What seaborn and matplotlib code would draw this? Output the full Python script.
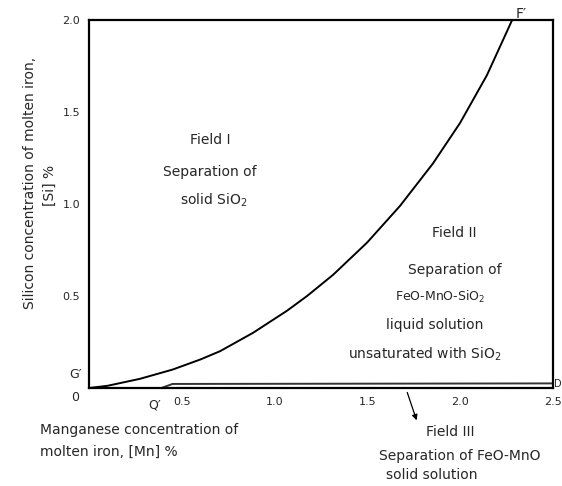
import matplotlib
matplotlib.use("Agg")
import matplotlib.pyplot as plt
import seaborn as sns
import pandas as pd

# Boundary curve G'-F' (Mn %, Si %)
mn_curve = [0.0, 0.10, 0.275, 0.45, 0.60, 0.706, 0.884, 1.067, 1.175, 1.315, 1.498, 1.676, 1.853, 1.999, 2.144, 2.28]
si_curve = [0.0, 0.012, 0.05, 0.10, 0.155, 0.20, 0.30, 0.42, 0.50, 0.615, 0.79, 0.99, 1.22, 1.44, 1.70, 2.0]

# Field III boundary (thin band along the bottom, from Q')
mn_band = [0.39, 0.45, 2.5]
si_band = [0.0, 0.022, 0.025]

x_ticks = [0.5, 1.0, 1.5, 2.0, 2.5]
x_tick_labels = ["0.5", "1.0", "1.5", "2.0", "2.5"]
y_ticks = [0.5, 1.0, 1.5, 2.0]
y_tick_labels = ["0.5", "1.0", "1.5", "2.0"]

sns.set_style("white")
plt.rcParams['font.family'] = ['DejaVu Sans']

fig = plt.figure(figsize=(5.62, 4.86), dpi=100)
ax = fig.add_axes([89/562, 98/486, (553-89)/562, (388-20)/486])

df = pd.DataFrame({"mn": mn_curve, "si": si_curve})
sns.lineplot(data=df, x="mn", y="si", ax=ax, color="black", linewidth=1.4, sort=False)
dfb = pd.DataFrame({"mn": mn_band, "si": si_band})
sns.lineplot(data=dfb, x="mn", y="si", ax=ax, color="#333333", linewidth=1.4, sort=False)

ax.set_xlim(0, 2.5)
ax.set_ylim(0, 2.0)
ax.set_xticks(x_ticks)
ax.set_xticklabels(x_tick_labels, fontsize=8)
ax.set_yticks(y_ticks)
ax.set_yticklabels(y_tick_labels, fontsize=8)
ax.tick_params(axis="both", direction="inout", length=5, width=1, color="black", pad=4)
ax.set_xlabel("")
ax.set_ylabel("")
for s in ax.spines.values():
    s.set_color("black")
    s.set_linewidth(1.6)

fs = 10
# Field I
ax.text(0.652, 1.348, "Field I", ha="center", va="center", fontsize=fs)
ax.text(0.652, 1.174, "Separation of", ha="center", va="center", fontsize=fs)
ax.text(0.67, 1.02, "solid SiO$_2$", ha="center", va="center", fontsize=fs)
# Field II
ax.text(1.97, 0.84, "Field II", ha="center", va="center", fontsize=fs)
ax.text(1.97, 0.64, "Separation of", ha="center", va="center", fontsize=fs)
ax.text(1.89, 0.495, "FeO-MnO-SiO$_2$", ha="center", va="center", fontsize=fs - 1)
ax.text(1.86, 0.34, "liquid solution", ha="center", va="center", fontsize=fs)
ax.text(1.81, 0.185, "unsaturated with SiO$_2$", ha="center", va="center", fontsize=fs)

# point labels
ax.text(-0.075, 0.076, "G\u2032", ha="center", va="center", fontsize=9, clip_on=False)
ax.text(-0.075, -0.054, "0", ha="center", va="center", fontsize=9, clip_on=False)
ax.text(0.356, -0.09, "Q\u2032", ha="center", va="center", fontsize=9, clip_on=False)
ax.text(2.33, 2.035, "F\u2032", ha="center", va="center", fontsize=10, clip_on=False)
ax.text(2.505, 0.02, "D", ha="left", va="center", fontsize=7, clip_on=False)

# Field III annotation
ax.annotate("", xy=(1.77, -0.19), xytext=(1.71, -0.01), xycoords="data",
            arrowprops=dict(arrowstyle="-|>", color="black", lw=0.9, mutation_scale=8),
            annotation_clip=False)
fig.text(450/562, 1 - 432/486, "Field III", ha="center", va="center", fontsize=fs)
fig.text(460/562, 1 - 456/486, "Separation of FeO-MnO", ha="center", va="center", fontsize=fs)
fig.text(432/562, 1 - 475/486, "solid solution", ha="center", va="center", fontsize=fs)

# axis titles
fig.text(40/562, 1 - 430/486, "Manganese concentration of", ha="left", va="center", fontsize=fs)
fig.text(40/562, 1 - 452/486, "molten iron, [Mn] %", ha="left", va="center", fontsize=fs)
fig.text(30/562, 1 - 183/486, "Silicon concentration of molten iron,", ha="center", va="center",
         rotation=90, fontsize=fs)
fig.text(50/562, 1 - 185/486, "[Si] %", ha="center", va="center", rotation=90, fontsize=fs)

fig.savefig("out.png", dpi=100)
